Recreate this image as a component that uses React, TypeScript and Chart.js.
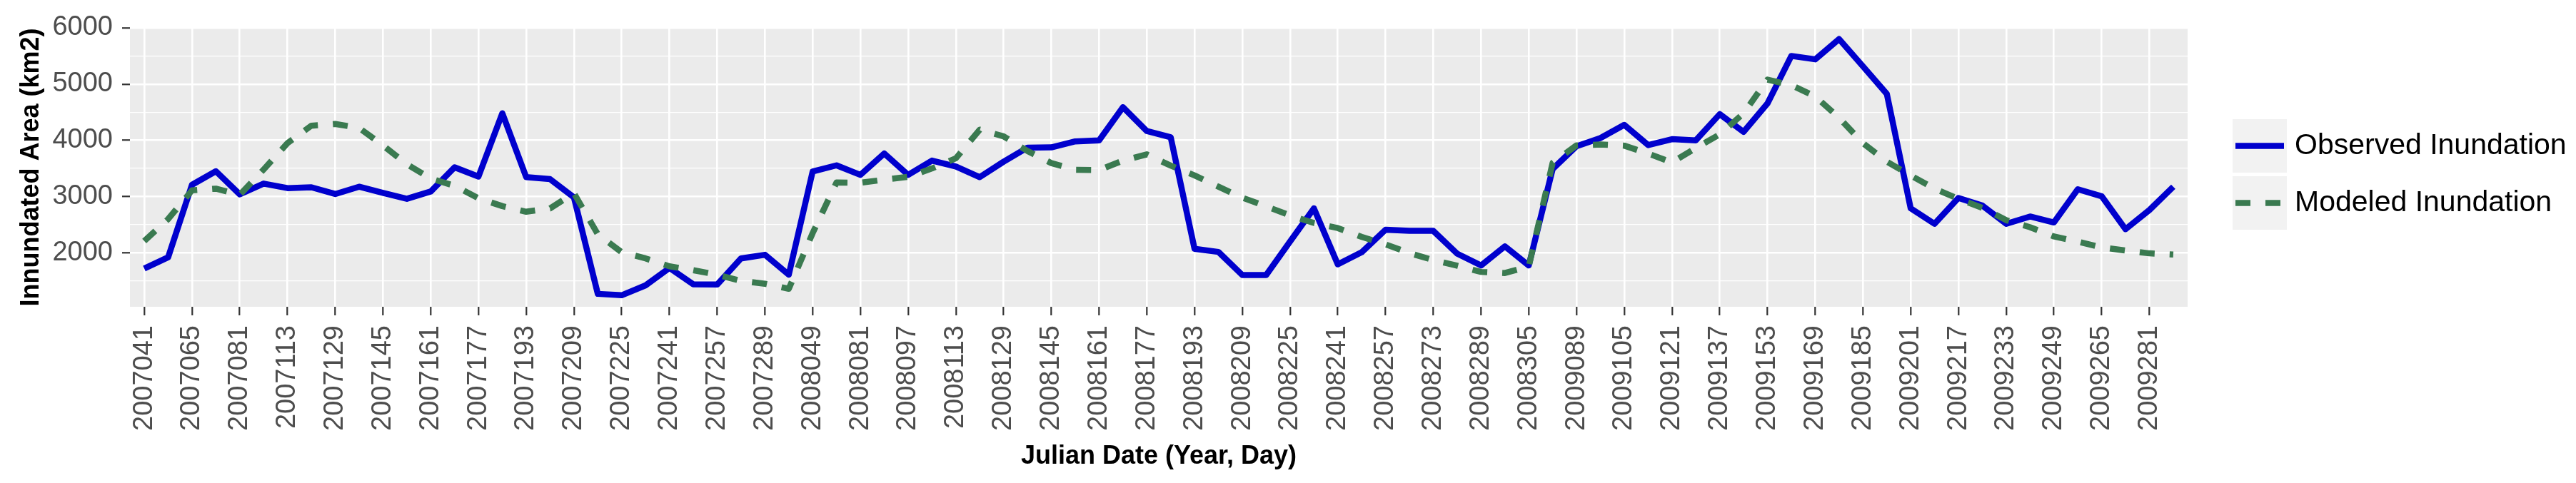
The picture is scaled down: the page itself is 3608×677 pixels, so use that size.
import React, { useEffect, useRef } from "react";
import { Chart, registerables } from "chart.js";

Chart.register(...registerables);

// ---- data ----
const tickLabels = [
  "2007041", "2007065", "2007081", "2007113", "2007129", "2007145", "2007161", "2007177",
  "2007193", "2007209", "2007225", "2007241", "2007257", "2007289", "2008049", "2008081",
  "2008097", "2008113", "2008129", "2008145", "2008161", "2008177", "2008193", "2008209",
  "2008225", "2008241", "2008257", "2008273", "2008289", "2008305", "2009089", "2009105",
  "2009121", "2009137", "2009153", "2009169", "2009185", "2009201", "2009217", "2009233",
  "2009249", "2009265", "2009281",
];

const observed = [
  1720, 1920, 3210, 3450, 3040, 3230, 3150, 3165, 3045, 3175,
  3065, 2960, 3090, 3520, 3355, 4480, 3345, 3310, 2985, 1270,
  1245, 1420, 1730, 1440, 1435, 1900, 1965, 1610, 3445, 3555,
  3385, 3765, 3385, 3640, 3535, 3345, 3620, 3870, 3875, 3980,
  4000, 4590, 4165, 4055, 2070, 2015, 1605, 1605, 2200, 2790,
  1795, 2010, 2410, 2390, 2390, 1985, 1775, 2115, 1775, 3490,
  3895, 4040, 4275, 3915, 4020, 4000, 4465, 4150, 4655, 5500,
  5440, 5800, 5315, 4825, 2790, 2515, 2975, 2840, 2515, 2645,
  2540, 3130, 3005, 2420, 2760, 3175,
];

const modeled = [
  2210, 2600, 3110, 3140, 3030, 3480, 3950, 4260, 4290, 4220,
  3910, 3575, 3320, 3190, 2970, 2830, 2730, 2790, 3060, 2330,
  2010, 1900, 1760, 1690, 1610, 1500, 1450, 1360, 2350, 3250,
  3245, 3300, 3350, 3500, 3680, 4190, 4070, 3810, 3595, 3475,
  3470, 3640, 3750, 3550, 3375, 3175, 2980, 2825, 2665, 2530,
  2440, 2284, 2150, 1995, 1870, 1770, 1660, 1640, 1755, 3600,
  3910, 3925, 3905, 3765, 3605, 3865, 4105, 4480, 5080, 4980,
  4780, 4400, 3950, 3620, 3375, 3140, 2960, 2800, 2580, 2455,
  2290, 2200, 2095, 2040, 1990, 1970,
];

const yMajorTicks = [2000, 3000, 4000, 5000, 6000];
const yMinorTicks = [1500, 2500, 3500, 4500, 5500];
const seriesNames = ["Observed Inundation", "Modeled Inundation"];

// ---- styling ----
const W = 3608;
const H = 677;
const FONT = "'Liberation Sans', Arial, Helvetica, sans-serif";
const OBS_COLOR = "#0000cd";
const MOD_COLOR = "#3a7a50";
const PANEL_BG = "#ebebeb";
const LINE_W = 8.5;
const DASH = [21, 21];

const panelPlugin = {
  id: "panelBg",
  beforeDraw(chart: any) {
    const { ctx, chartArea } = chart;
    ctx.save();
    ctx.fillStyle = "#ffffff";
    ctx.fillRect(0, 0, chart.width, chart.height);
    ctx.fillStyle = PANEL_BG;
    ctx.fillRect(chartArea.left, chartArea.top, chartArea.right - chartArea.left, chartArea.bottom - chartArea.top);
    ctx.restore();
  },
};

const legendPlugin = {
  id: "ggLegend",
  afterDraw(chart: any) {
    const { ctx, chartArea } = chart;
    const items = [
      { name: seriesNames[0], color: OBS_COLOR, dash: [] as number[] },
      { name: seriesNames[1], color: MOD_COLOR, dash: DASH },
    ];
    const boxX = chartArea.right + 63;
    const boxW = 76;
    const boxH = 75;
    const top0 = 167;
    ctx.save();
    items.forEach((it, i) => {
      const y = top0 + i * (boxH + 5);
      ctx.fillStyle = "#f2f2f2";
      ctx.fillRect(boxX, y, boxW, boxH);
      const cy = y + boxH / 2;
      ctx.beginPath();
      ctx.setLineDash(it.dash);
      ctx.lineCap = "butt";
      ctx.strokeStyle = it.color;
      ctx.lineWidth = LINE_W;
      ctx.moveTo(boxX + 4, cy);
      ctx.lineTo(boxX + boxW - 4, cy);
      ctx.stroke();
      ctx.setLineDash([]);
      ctx.fillStyle = "#000000";
      ctx.font = `41px ${FONT}`;
      ctx.textBaseline = "middle";
      ctx.textAlign = "left";
      ctx.fillText(it.name, boxX + boxW + 11, cy);
    });
    ctx.restore();
  },
};

export default function App() {
  const canvasRef = useRef<HTMLCanvasElement | null>(null);

  useEffect(() => {
    const canvas = canvasRef.current;
    if (!canvas) return;
    const chart = new Chart(canvas, {
      type: "line",
      data: {
        datasets: [
          {
            label: seriesNames[1],
            data: modeled.map((v, i) => ({ x: i, y: v })),
            borderColor: MOD_COLOR,
            borderWidth: LINE_W,
            borderDash: DASH,
            borderCapStyle: "butt",
            borderJoinStyle: "round",
            pointRadius: 0,
            tension: 0,
            fill: false,
            order: 0,
          },
          {
            label: seriesNames[0],
            data: observed.map((v, i) => ({ x: i, y: v })),
            borderColor: OBS_COLOR,
            borderWidth: LINE_W,
            borderCapStyle: "butt",
            borderJoinStyle: "round",
            pointRadius: 0,
            tension: 0,
            fill: false,
            order: 1,
          },
        ],
      },
      options: {
        animation: false,
        responsive: false,
        devicePixelRatio: 1,
        layout: { padding: { left: 0, top: 39, right: W - 3064, bottom: 0 } },
        plugins: {
          legend: { display: false },
          tooltip: { enabled: false },
        },
        scales: {
          x: {
            type: "linear",
            min: -0.6,
            max: observed.length - 1 + 0.6,
            afterBuildTicks: (s: any) => {
              s.ticks = tickLabels.map((_, k) => ({ value: 2 * k }));
            },
            afterFit: (s: any) => {
              s.height = H - 430;
            },
            border: { display: false },
            grid: {
              color: "#ffffff",
              lineWidth: 2.6,
              drawTicks: true,
              tickLength: 12,
              tickColor: "#333333",
              tickWidth: 2.2,
            },
            ticks: {
              autoSkip: false,
              minRotation: 90,
              maxRotation: 90,
              padding: 14,
              color: "#4d4d4d",
              font: { family: FONT, size: 38 },
              callback: (v: any) => tickLabels[Math.round(Number(v) / 2)] ?? "",
            },
            title: {
              display: true,
              text: "Julian Date (Year, Day)",
              color: "#000000",
              font: { family: FONT, size: 36, weight: "bold" },
              padding: { top: 0, bottom: 15 },
            },
          },
          y: {
            type: "linear",
            min: 1040,
            max: 6000,
            afterBuildTicks: (s: any) => {
              s.ticks = [...yMinorTicks, ...yMajorTicks]
                .sort((a, b) => a - b)
                .map((v) => ({ value: v }));
            },
            afterFit: (s: any) => {
              s.width = 182;
            },
            border: { display: false },
            grid: {
              color: "#ffffff",
              lineWidth: (c: any) => (c.tick && c.tick.value % 1000 === 0 ? 2.6 : 1.3),
              drawTicks: true,
              tickLength: 11,
              tickColor: (c: any) => (c.tick && c.tick.value % 1000 === 0 ? "#333333" : "rgba(0,0,0,0)"),
              tickWidth: 2.2,
            },
            ticks: {
              autoSkip: false,
              padding: 13,
              color: "#4d4d4d",
              font: { family: FONT, size: 38 },
              callback: (v: any) => (Number(v) % 1000 === 0 ? String(v) : ""),
            },
            title: {
              display: true,
              text: "Innundated Area (km2)",
              color: "#000000",
              font: { family: FONT, size: 36, weight: "bold" },
              padding: { top: 22, bottom: 0 },
            },
          },
        },
      },
      plugins: [panelPlugin, legendPlugin],
    });
    return () => chart.destroy();
  }, []);

  return (
    <div style={{ position: "absolute", left: 0, top: 0, width: W, height: H, background: "#ffffff" }}>
      <canvas ref={canvasRef} width={W} height={H} style={{ display: "block", width: W, height: H }} />
    </div>
  );
}
